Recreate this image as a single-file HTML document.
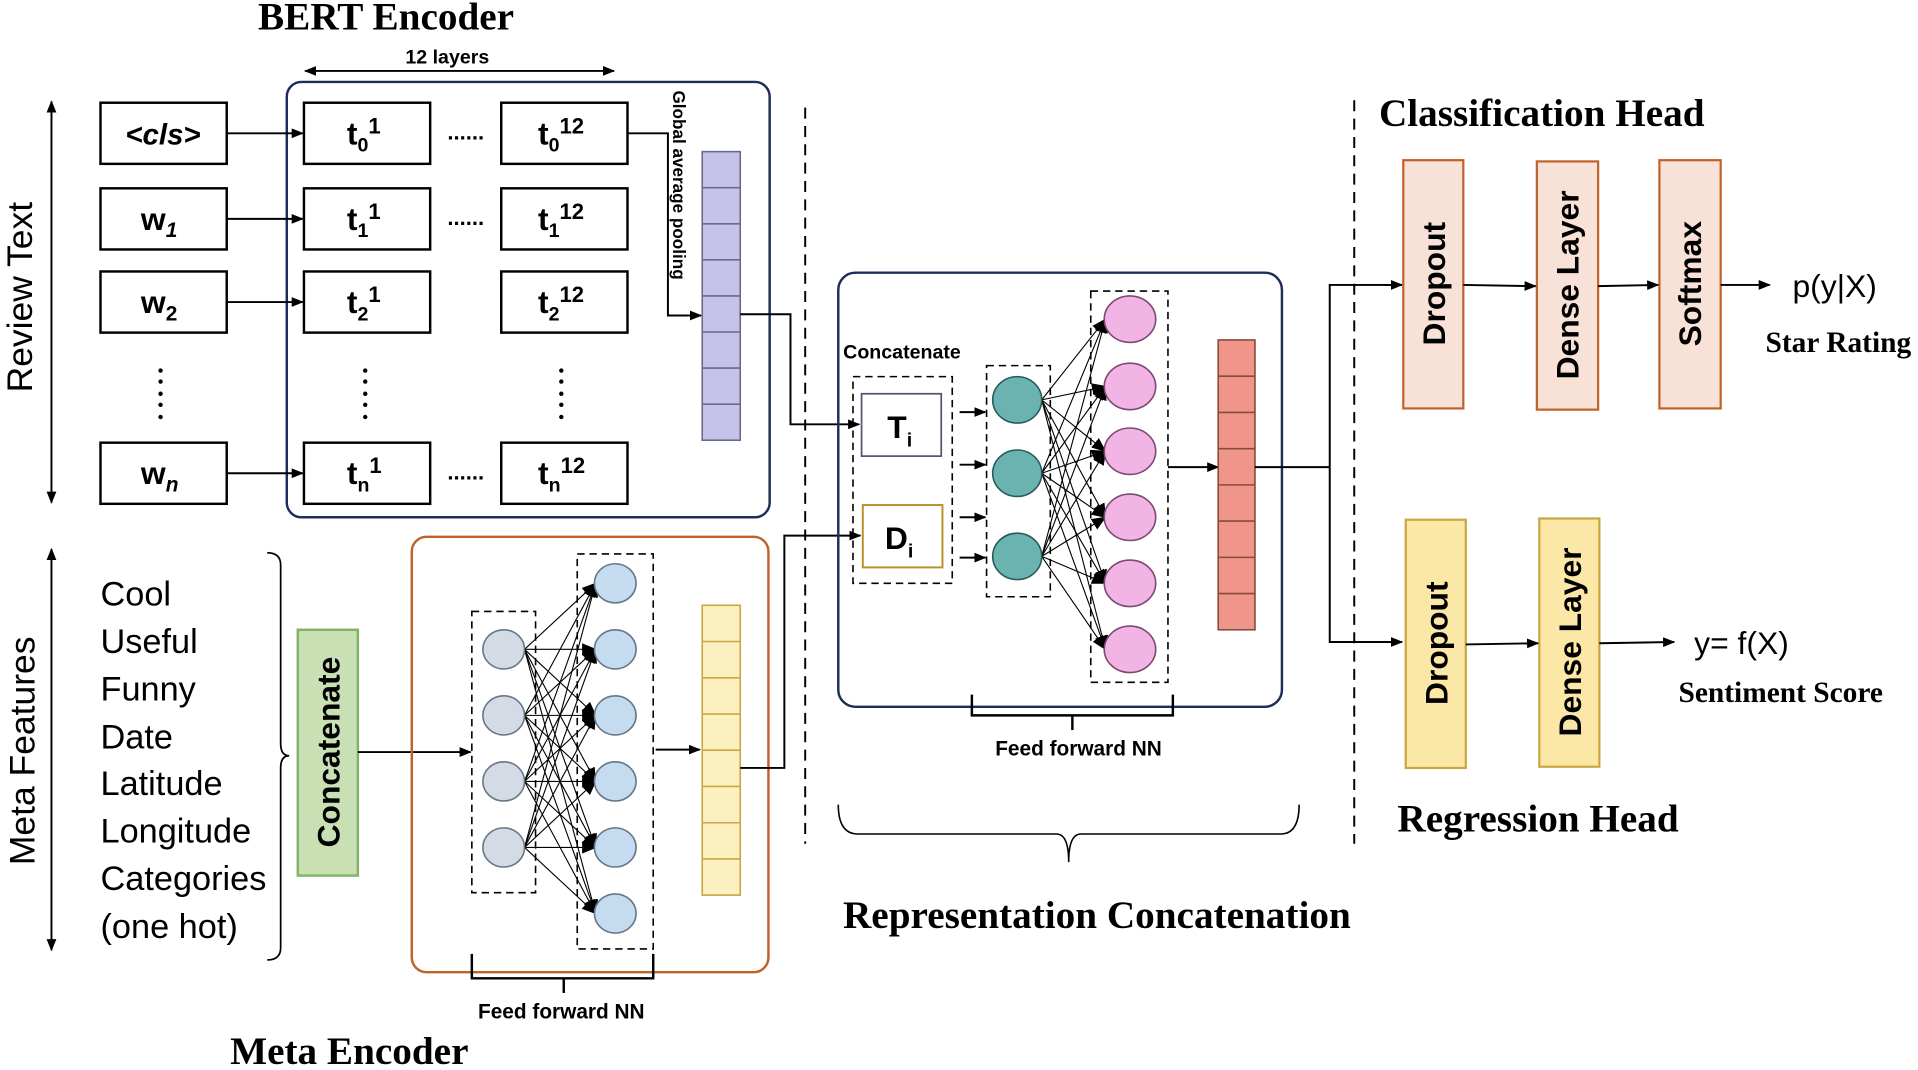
<!DOCTYPE html>
<html><head><meta charset="utf-8"><style>
html,body{margin:0;padding:0;background:#fff;}
svg{display:block;}
.s{font-family:"Liberation Sans",sans-serif;}
.r{font-family:"Liberation Serif",serif;font-weight:bold;}
</style></head><body>
<svg width="1918" height="1070" viewBox="0 0 1565 875" preserveAspectRatio="none" xmlns="http://www.w3.org/2000/svg">
<defs>
<marker id="a" markerWidth="10" markerHeight="8" refX="9" refY="4" orient="auto" markerUnits="userSpaceOnUse"><path d="M0,0 L10,4 L0,8z" fill="#000"/></marker>
<marker id="b" markerWidth="10" markerHeight="8" refX="1" refY="4" orient="auto" markerUnits="userSpaceOnUse"><path d="M10,0 L0,4 L10,8z" fill="#000"/></marker>
<marker id="c" markerWidth="12" markerHeight="10" refX="11" refY="5" orient="auto" markerUnits="userSpaceOnUse"><path d="M0,0 L12,5 L0,10z" fill="#000"/></marker>
</defs>
<g fill="none" stroke="#000" stroke-width="1.6">
<text x="315" y="24" class="r" font-size="32" text-anchor="middle" fill="#000" stroke="none">BERT Encoder</text>
<text x="365" y="52" class="s" font-size="16" font-weight="bold" text-anchor="middle" fill="#000" stroke="none">12 layers</text>
<line x1="249" y1="58" x2="501" y2="58" marker-start="url(#b)" marker-end="url(#a)"/>
<line x1="42" y1="83" x2="42" y2="411" marker-start="url(#b)" marker-end="url(#a)"/>
<text transform="translate(26,243) rotate(-90)" class="s" font-size="29" text-anchor="middle" fill="#000" stroke="none">Review Text</text>
<line x1="42" y1="449" x2="42" y2="777" marker-start="url(#b)" marker-end="url(#a)"/>
<text transform="translate(28,614) rotate(-90)" class="s" font-size="29" text-anchor="middle" fill="#000" stroke="none">Meta Features</text>

<rect x="234" y="67" width="394" height="356" rx="12" stroke="#1f2d5a" stroke-width="2"/>
<g stroke-width="2">
<rect x="82" y="84" width="103" height="50"/><rect x="248" y="84" width="103" height="50"/><rect x="409" y="84" width="103" height="50"/>
<rect x="82" y="154" width="103" height="50"/><rect x="248" y="154" width="103" height="50"/><rect x="409" y="154" width="103" height="50"/>
<rect x="82" y="222" width="103" height="50"/><rect x="248" y="222" width="103" height="50"/><rect x="409" y="222" width="103" height="50"/>
<rect x="82" y="362" width="103" height="50"/><rect x="248" y="362" width="103" height="50"/><rect x="409" y="362" width="103" height="50"/>
</g>
<line x1="185" y1="109" x2="247" y2="109" marker-end="url(#a)"/>
<line x1="185" y1="179" x2="247" y2="179" marker-end="url(#a)"/>
<line x1="185" y1="247" x2="247" y2="247" marker-end="url(#a)"/>
<line x1="185" y1="387" x2="247" y2="387" marker-end="url(#a)"/>
<g class="s" font-weight="bold" fill="#000" stroke="none">
<text x="133" y="118" text-anchor="middle" font-size="24" font-style="italic">&lt;cls&gt;</text>
<text x="115" y="188" font-size="26">w<tspan font-size="17" dy="6" font-style="italic">1</tspan></text>
<text x="115" y="256" font-size="26">w<tspan font-size="17" dy="6">2</tspan></text>
<text x="115" y="396" font-size="26">w<tspan font-size="17" dy="6" font-style="italic">n</tspan></text>
<text x="283" y="118" font-size="26">t<tspan font-size="16" dy="6">0</tspan><tspan font-size="18" dy="-15">1</tspan></text>
<text x="439" y="118" font-size="26">t<tspan font-size="16" dy="6">0</tspan><tspan font-size="18" dy="-15">12</tspan></text>
<text x="283" y="188" font-size="26">t<tspan font-size="16" dy="6">1</tspan><tspan font-size="18" dy="-15">1</tspan></text>
<text x="439" y="188" font-size="26">t<tspan font-size="16" dy="6">1</tspan><tspan font-size="18" dy="-15">12</tspan></text>
<text x="283" y="256" font-size="26">t<tspan font-size="16" dy="6">2</tspan><tspan font-size="18" dy="-15">1</tspan></text>
<text x="439" y="256" font-size="26">t<tspan font-size="16" dy="6">2</tspan><tspan font-size="18" dy="-15">12</tspan></text>
<text x="283" y="396" font-size="26">t<tspan font-size="16" dy="6">n</tspan><tspan font-size="18" dy="-15">1</tspan></text>
<text x="439" y="396" font-size="26">t<tspan font-size="16" dy="6">n</tspan><tspan font-size="18" dy="-15">12</tspan></text>
<text x="380" y="114" text-anchor="middle" font-size="18">......</text>
<text x="380" y="184" text-anchor="middle" font-size="18">......</text>
<text x="380" y="392" text-anchor="middle" font-size="18">......</text>
</g>
<g fill="#000" stroke="none">
<circle cx="131" cy="303" r="1.8"/><circle cx="131" cy="312" r="1.8"/><circle cx="131" cy="322" r="1.8"/><circle cx="131" cy="331" r="1.8"/><circle cx="131" cy="341" r="1.8"/>
<circle cx="298" cy="303" r="1.8"/><circle cx="298" cy="312" r="1.8"/><circle cx="298" cy="322" r="1.8"/><circle cx="298" cy="331" r="1.8"/><circle cx="298" cy="341" r="1.8"/>
<circle cx="458" cy="303" r="1.8"/><circle cx="458" cy="312" r="1.8"/><circle cx="458" cy="322" r="1.8"/><circle cx="458" cy="331" r="1.8"/><circle cx="458" cy="341" r="1.8"/>
</g>
<text transform="translate(549,74) rotate(90)" class="s" font-size="14" font-weight="bold" fill="#000" stroke="none">Global average pooling</text>
<polyline points="512,109 545,109 545,258 572,258" marker-end="url(#a)"/>
<rect x="573" y="124" width="31" height="236" fill="#c5c3ea" stroke="#6a6a88" stroke-width="1.3"/>
<path d="M573,153.5H604M573,183H604M573,212.5H604M573,242H604M573,271.5H604M573,301H604M573,330.5H604" stroke="#6a6a88" stroke-width="1.3"/>
<polyline points="604,257 645,257 645,347 701,347" marker-end="url(#a)"/>
<line x1="657" y1="88" x2="657" y2="690" stroke-dasharray="9,6"/>
<line x1="1105" y1="82" x2="1105" y2="690" stroke-dasharray="9,6"/>

<g class="s" font-size="28" fill="#000" stroke="none">
<text x="82" y="495">Cool</text><text x="82" y="534">Useful</text><text x="82" y="573">Funny</text><text x="82" y="612">Date</text><text x="82" y="650">Latitude</text><text x="82" y="689">Longitude</text><text x="82" y="728">Categories</text><text x="82" y="767">(one hot)</text>
</g>
<path d="M218,452 Q229,452 229,462 L229,608 Q229,618 236,618 Q229,618 229,628 L229,775 Q229,785 218,785" stroke-width="1.4"/>
<rect x="243" y="515" width="49" height="201" fill="#c9e0b5" stroke="#82b366" stroke-width="2"/>
<text transform="translate(277,615) rotate(-90)" class="s" font-size="26" font-weight="bold" text-anchor="middle" fill="#000" stroke="none">Concatenate</text>
<line x1="292" y1="615" x2="384" y2="615" marker-end="url(#a)"/>
<rect x="336" y="439" width="291" height="356" rx="12" stroke="#c0622a" stroke-width="2"/>
<rect x="385" y="500" width="52" height="230" stroke-dasharray="6,4" stroke-width="1.3"/>
<rect x="471" y="453" width="62" height="323" stroke-dasharray="6,4" stroke-width="1.3"/>
<g stroke-width="0.9" marker-end="url(#c)">
<line x1="428" y1="531" x2="486" y2="477"/><line x1="428" y1="531" x2="486" y2="531"/><line x1="428" y1="531" x2="486" y2="585"/><line x1="428" y1="531" x2="486" y2="639"/><line x1="428" y1="531" x2="486" y2="693"/><line x1="428" y1="531" x2="486" y2="747"/>
<line x1="428" y1="585" x2="486" y2="477"/><line x1="428" y1="585" x2="486" y2="531"/><line x1="428" y1="585" x2="486" y2="585"/><line x1="428" y1="585" x2="486" y2="639"/><line x1="428" y1="585" x2="486" y2="693"/><line x1="428" y1="585" x2="486" y2="747"/>
<line x1="428" y1="639" x2="486" y2="477"/><line x1="428" y1="639" x2="486" y2="531"/><line x1="428" y1="639" x2="486" y2="585"/><line x1="428" y1="639" x2="486" y2="639"/><line x1="428" y1="639" x2="486" y2="693"/><line x1="428" y1="639" x2="486" y2="747"/>
<line x1="428" y1="693" x2="486" y2="477"/><line x1="428" y1="693" x2="486" y2="531"/><line x1="428" y1="693" x2="486" y2="585"/><line x1="428" y1="693" x2="486" y2="639"/><line x1="428" y1="693" x2="486" y2="693"/><line x1="428" y1="693" x2="486" y2="747"/>
</g>
<g fill="#d5dbe5" stroke="#667788" stroke-width="1.3">
<ellipse cx="411" cy="531" rx="17" ry="16"/><ellipse cx="411" cy="585" rx="17" ry="16"/><ellipse cx="411" cy="639" rx="17" ry="16"/><ellipse cx="411" cy="693" rx="17" ry="16"/>
</g>
<g fill="#c5dbf0" stroke="#667788" stroke-width="1.3">
<ellipse cx="502" cy="477" rx="17" ry="16"/><ellipse cx="502" cy="531" rx="17" ry="16"/><ellipse cx="502" cy="585" rx="17" ry="16"/><ellipse cx="502" cy="639" rx="17" ry="16"/><ellipse cx="502" cy="693" rx="17" ry="16"/><ellipse cx="502" cy="747" rx="17" ry="16"/>
</g>
<line x1="535" y1="613" x2="571" y2="613" marker-end="url(#a)"/>
<rect x="573" y="495" width="31" height="237" fill="#fdf0c0" stroke="#c9a640" stroke-width="1.3"/>
<path d="M573,524.6H604M573,554.3H604M573,583.9H604M573,613.5H604M573,643.1H604M573,672.8H604M573,702.4H604" stroke="#c9a640" stroke-width="1.3"/>
<polyline points="604,628 640,628 640,438 702,438" marker-end="url(#a)"/>
<polyline points="385,780 385,800 533,800 533,780" stroke-width="2"/>
<line x1="460" y1="800" x2="460" y2="812" stroke-width="2"/>
<text x="458" y="833" class="s" font-size="17" font-weight="bold" text-anchor="middle" fill="#000" stroke="none">Feed forward NN</text>
<text x="285" y="870" class="r" font-size="32" text-anchor="middle" fill="#000" stroke="none">Meta Encoder</text>

<rect x="684" y="223" width="362" height="355" rx="14" stroke="#1f2d5a" stroke-width="2"/>
<text x="688" y="293" class="s" font-size="16" font-weight="bold" fill="#000" stroke="none">Concatenate</text>
<rect x="696" y="308" width="81" height="169" stroke-dasharray="6,4" stroke-width="1.3"/>
<rect x="703" y="322" width="65" height="51" stroke="#5a5070" stroke-width="1.4"/>
<text x="724" y="358" class="s" font-size="26" font-weight="bold" fill="#000" stroke="none">T<tspan font-size="16" dy="7">i</tspan></text>
<rect x="704" y="413" width="65" height="51" stroke="#b8902a" stroke-width="1.6"/>
<text x="722" y="449" class="s" font-size="26" font-weight="bold" fill="#000" stroke="none">D<tspan font-size="16" dy="7">i</tspan></text>
<line x1="783" y1="337" x2="804" y2="337" marker-end="url(#a)"/>
<line x1="783" y1="380" x2="804" y2="380" marker-end="url(#a)"/>
<line x1="783" y1="423" x2="804" y2="423" marker-end="url(#a)"/>
<line x1="783" y1="456" x2="804" y2="456" marker-end="url(#a)"/>
<rect x="805" y="299" width="52" height="189" stroke-dasharray="6,4" stroke-width="1.3"/>
<rect x="890" y="238" width="63" height="320" stroke-dasharray="6,4" stroke-width="1.3"/>
<g stroke-width="0.9" marker-end="url(#c)">
<line x1="850" y1="327" x2="902" y2="261"/><line x1="850" y1="327" x2="902" y2="316"/><line x1="850" y1="327" x2="902" y2="369"/><line x1="850" y1="327" x2="902" y2="423"/><line x1="850" y1="327" x2="902" y2="477"/><line x1="850" y1="327" x2="902" y2="531"/>
<line x1="850" y1="387" x2="902" y2="261"/><line x1="850" y1="387" x2="902" y2="316"/><line x1="850" y1="387" x2="902" y2="369"/><line x1="850" y1="387" x2="902" y2="423"/><line x1="850" y1="387" x2="902" y2="477"/><line x1="850" y1="387" x2="902" y2="531"/>
<line x1="850" y1="455" x2="902" y2="261"/><line x1="850" y1="455" x2="902" y2="316"/><line x1="850" y1="455" x2="902" y2="369"/><line x1="850" y1="455" x2="902" y2="423"/><line x1="850" y1="455" x2="902" y2="477"/><line x1="850" y1="455" x2="902" y2="531"/>
</g>
<g fill="#6ab3b0" stroke="#2a5a5a" stroke-width="1.3">
<ellipse cx="830" cy="327" rx="20" ry="19"/><ellipse cx="830" cy="387" rx="20" ry="19"/><ellipse cx="830" cy="455" rx="20" ry="19"/>
</g>
<g fill="#f2b3e5" stroke="#7a4a70" stroke-width="1.3">
<ellipse cx="922" cy="261" rx="21" ry="19"/><ellipse cx="922" cy="316" rx="21" ry="19"/><ellipse cx="922" cy="369" rx="21" ry="19"/><ellipse cx="922" cy="423" rx="21" ry="19"/><ellipse cx="922" cy="477" rx="21" ry="19"/><ellipse cx="922" cy="531" rx="21" ry="19"/>
</g>
<line x1="953" y1="382" x2="994" y2="382" marker-end="url(#a)"/>
<rect x="994" y="278" width="30" height="237" fill="#f0958a" stroke="#8a4a3a" stroke-width="1.3"/>
<path d="M994,307.6H1024M994,337.3H1024M994,366.9H1024M994,396.5H1024M994,426.1H1024M994,455.8H1024M994,485.4H1024" stroke="#8a4a3a" stroke-width="1.3"/>
<polyline points="1024,382 1085,382"/>
<polyline points="1144,233 1085,233 1085,525 1144,525"/>
<line x1="1130" y1="233" x2="1144" y2="233" marker-end="url(#a)"/>
<line x1="1130" y1="525" x2="1144" y2="525" marker-end="url(#a)"/>
<polyline points="793,568 793,585 957,585 957,568" stroke-width="2"/>
<line x1="875" y1="585" x2="875" y2="597" stroke-width="2"/>
<text x="880" y="618" class="s" font-size="17" font-weight="bold" text-anchor="middle" fill="#000" stroke="none">Feed forward NN</text>
<path d="M684,658 Q684,682 700,682 L862,682 Q872,682 872,705 Q872,682 882,682 L1045,682 Q1060,682 1060,658" stroke-width="1.3"/>
<text x="895" y="759" class="r" font-size="32" text-anchor="middle" fill="#000" stroke="none">Representation Concatenation</text>

<text x="1258" y="103" class="r" font-size="32" text-anchor="middle" fill="#000" stroke="none">Classification Head</text>
<g stroke-width="1.8">
<rect x="1145" y="131" width="49" height="203" fill="#f8e1d6" stroke="#c0622a"/>
<rect x="1254" y="132" width="50" height="203" fill="#f8e1d6" stroke="#c0622a"/>
<rect x="1354" y="131" width="50" height="203" fill="#f8e1d6" stroke="#c0622a"/>
<rect x="1147" y="425" width="49" height="203" fill="#fbe8a6" stroke="#c9a640"/>
<rect x="1256" y="424" width="49" height="203" fill="#fbe8a6" stroke="#c9a640"/>
</g>
<g class="s" font-size="26" font-weight="bold" fill="#000" stroke="none" text-anchor="middle">
<text transform="translate(1179,232) rotate(-90)">Dropout</text>
<text transform="translate(1288,233) rotate(-90)">Dense Layer</text>
<text transform="translate(1388,232) rotate(-90)">Softmax</text>
<text transform="translate(1181,526) rotate(-90)">Dropout</text>
<text transform="translate(1290,525) rotate(-90)">Dense Layer</text>
</g>
<line x1="1194" y1="233" x2="1253" y2="234" marker-end="url(#a)"/>
<line x1="1304" y1="234" x2="1353" y2="233" marker-end="url(#a)"/>
<line x1="1404" y1="233" x2="1444" y2="233" marker-end="url(#a)"/>
<text x="1497" y="243" class="s" font-size="26" text-anchor="middle" fill="#000" stroke="none">p(y|X)</text>
<text x="1500" y="288" class="r" font-size="24" text-anchor="middle" fill="#000" stroke="none">Star Rating</text>
<line x1="1196" y1="527" x2="1255" y2="526" marker-end="url(#a)"/>
<line x1="1305" y1="526" x2="1366" y2="525" marker-end="url(#a)"/>
<text x="1421" y="535" class="s" font-size="26" text-anchor="middle" fill="#000" stroke="none">y= f(X)</text>
<text x="1453" y="574" class="r" font-size="24" text-anchor="middle" fill="#000" stroke="none">Sentiment Score</text>
<text x="1255" y="680" class="r" font-size="32" text-anchor="middle" fill="#000" stroke="none">Regression Head</text>
</g>
</svg>
</body></html>
